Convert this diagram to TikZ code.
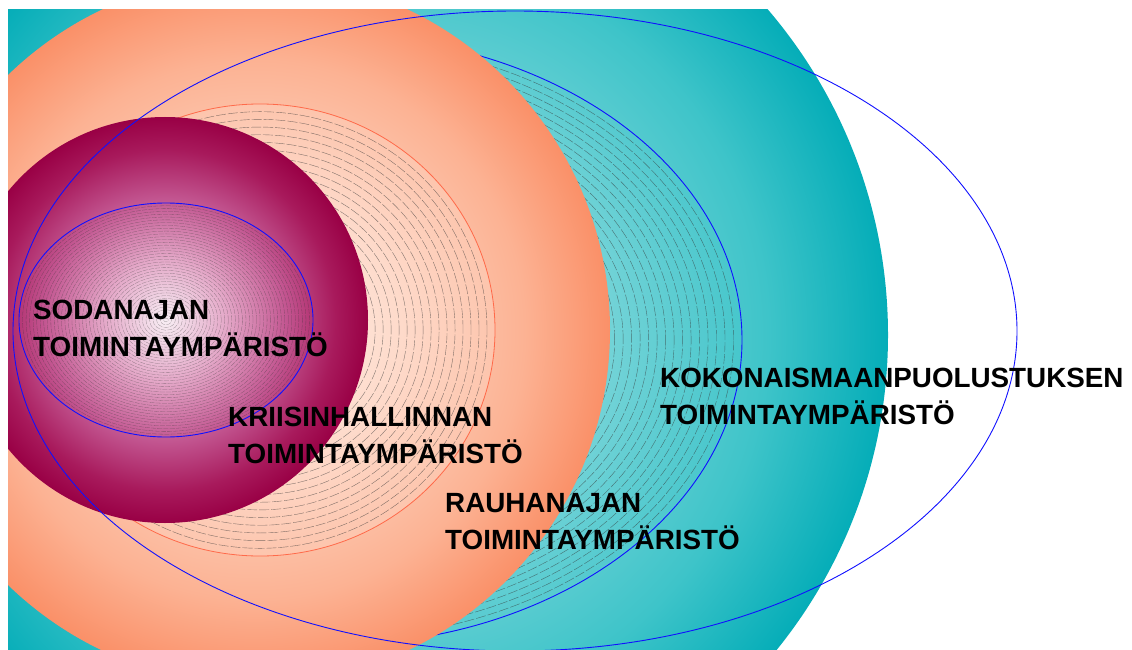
\documentclass[tikz,border=0pt]{standalone}
\usepackage{fontspec}
\setmainfont{Liberation Sans}

% colours of the four zones
\definecolor{tealA}{HTML}{B4EEF0}
\definecolor{tealB}{HTML}{7AD5D9}
\definecolor{tealC}{HTML}{3EC4C9}
\definecolor{tealD}{HTML}{05ADB8}
\definecolor{oraA}{HTML}{FEE6DA}
\definecolor{oraB}{HTML}{FDC9B2}
\definecolor{oraC}{HTML}{FCB293}
\definecolor{oraD}{HTML}{FA9068}
\definecolor{criA}{HTML}{FFF1EA}
\definecolor{criB}{HTML}{FEDACA}
\definecolor{criD}{HTML}{FDC5AD}
\definecolor{magA}{HTML}{F8EEF4}
\definecolor{magB}{HTML}{E4A8C8}
\definecolor{magC}{HTML}{C25590}
\definecolor{magD}{HTML}{A81A5C}
\definecolor{magE}{HTML}{990045}
\definecolor{outlineblue}{HTML}{1010FF}
\definecolor{outlinered}{HTML}{FF6A4A}

\pgfdeclareradialshading{tealshade}{\pgfpointorigin}{color(0bp)=(tealA); color(10bp)=(tealB); color(19bp)=(tealC); color(25bp)=(tealD); color(50bp)=(tealD)}
\pgfdeclareradialshading{orashade}{\pgfpointorigin}{color(0bp)=(oraA); color(12.5bp)=(oraB); color(19bp)=(oraC); color(25bp)=(oraD); color(50bp)=(oraD)}
\pgfdeclareradialshading{crishade}{\pgfpointorigin}{color(0bp)=(criA); color(15bp)=(criB); color(25bp)=(criD); color(50bp)=(criD)}
\pgfdeclareradialshading{magshade}{\pgfpointorigin}{color(0bp)=(magA); color(7.5bp)=(magB); color(15bp)=(magC); color(21bp)=(magD); color(25bp)=(magE); color(50bp)=(magE)}

\tikzset{
  zoneline/.style={draw=outlineblue, line width=0.9pt},
  crisisline/.style={draw=outlinered, line width=0.8pt},
  ring/.style={draw=black!80, draw opacity=0.6, line width=0.4pt, dash pattern=on 10pt off 2pt},
  finering/.style={draw=black!80, draw opacity=0.45, line width=0.3pt, dash pattern=on 5pt off 1.2pt},
  % anchor base west sits on the baseline of the second line
  zonelabel/.style={anchor=base west, align=left, inner sep=0pt,
    font=\fontsize{27.8}{36.5}\selectfont\bfseries, text=black}
}

\begin{document}
\begin{tikzpicture}[x=1pt, y=-1pt]
\useasboundingbox (0,0) rectangle (1132,650);

\begin{scope}
  \clip (8,10) rectangle (1132,650);

  % total defence: teal disc
  \path[shading=tealshade] (387,335) circle (501pt);

  % peacetime band: rings and outline, partly covered by the orange disc
  \begin{scope}
    \clip (330,340) ellipse [x radius=412pt, y radius=305pt];
    \foreach \k in {1,...,20}
      \draw[ring] (330,340) ellipse [x radius={412pt*(1-0.0206*\k)}, y radius={305pt*(1-0.0206*\k)}];
  \end{scope}
  \draw[zoneline] (330,340) ellipse [x radius=412pt, y radius=305pt];

  % peacetime: orange disc
  \path[shading=orashade] (255,330) circle (355pt);

  % crisis management: light disc with rings and red rim
  \path[shading=crishade] (260,330) ellipse [x radius=235pt, y radius=226pt];
  \begin{scope}
    \clip (260,330) ellipse [x radius=235pt, y radius=226pt];
    \foreach \k in {1,...,28}
      \draw[ring] (260,330) ellipse [x radius={235pt*(1-0.034*\k)}, y radius={226pt*(1-0.034*\k)}];
  \end{scope}
  \draw[crisisline] (260,330) ellipse [x radius=235pt, y radius=226pt];

  % wartime: crimson disc
  \path[shading=magshade] (165,320) circle (203pt);
  \begin{scope}
    \clip (166,320) ellipse [x radius=147pt, y radius=117pt];
    \foreach \k in {1,...,41}
      \draw[finering] (166,320) ellipse [x radius={147pt*(1-0.024*\k)}, y radius={117pt*(1-0.024*\k)}];
  \end{scope}
  \draw[zoneline] (166,320) ellipse [x radius=147pt, y radius=117pt];

  % outer frame of total defence
  \draw[zoneline] (515,331) ellipse [x radius=502pt, y radius=320pt];
\end{scope}

\node[zonelabel] (war) at (33,356) {SODANAJAN\\TOIMINTAYMPÄRISTÖ};
\node[zonelabel] (crisis) at (228,463) {KRIISINHALLINNAN\\TOIMINTAYMPÄRISTÖ};
\node[zonelabel] (peace) at (445,549) {RAUHANAJAN\\TOIMINTAYMPÄRISTÖ};
\node[zonelabel] (total) at (660,424) {KOKONAISMAANPUOLUSTUKSEN\\TOIMINTAYMPÄRISTÖ};
\end{tikzpicture}
\end{document}
